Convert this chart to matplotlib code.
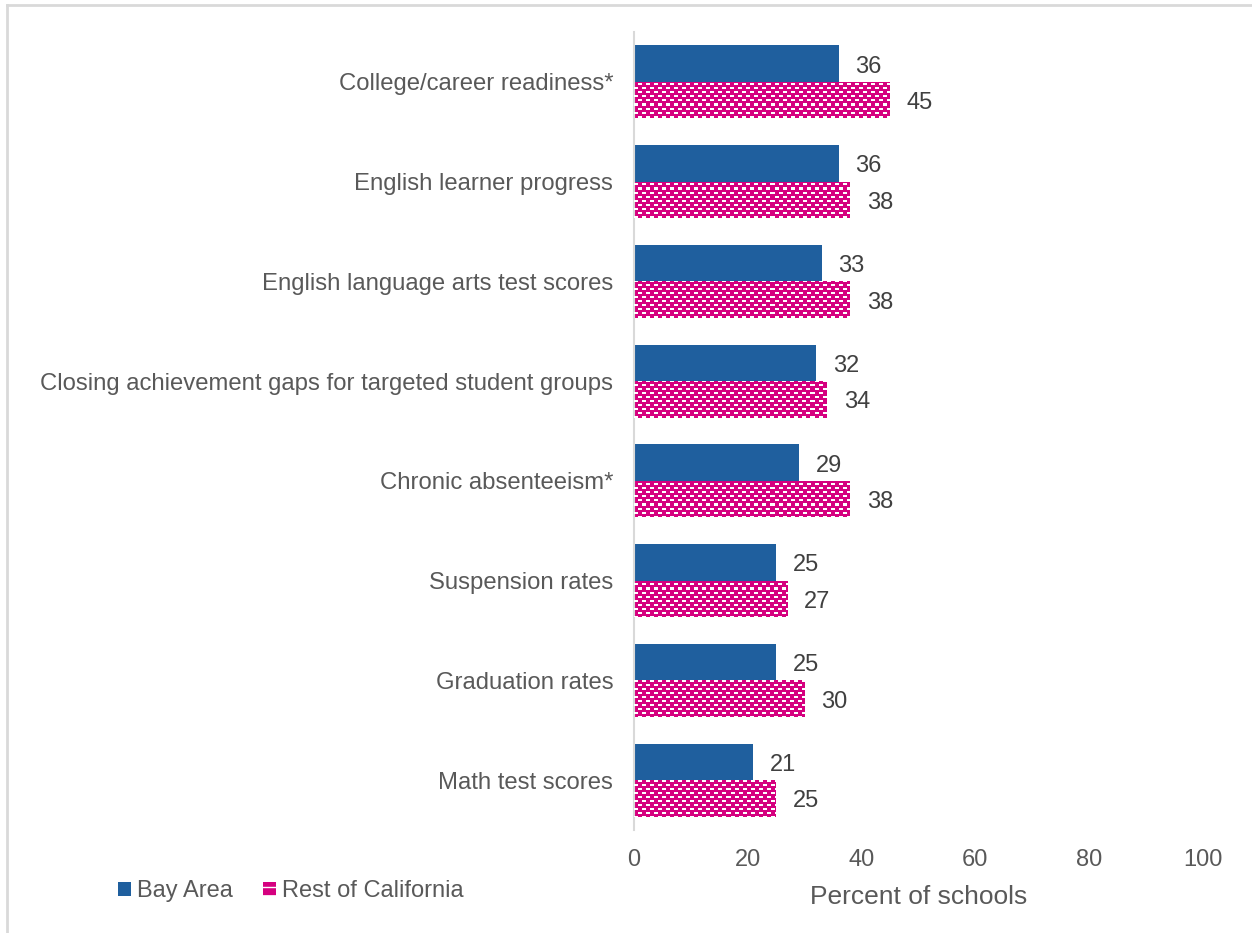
import numpy as np
import matplotlib
matplotlib.use("Agg")
import matplotlib.pyplot as plt
from matplotlib.patches import Patch
from matplotlib.lines import Line2D

plt.rcParams['font.family'] = ['Liberation Sans', 'DejaVu Sans']

categories = [
    "College/career readiness*",
    "English learner progress",
    "English language arts test scores",
    "Closing achievement gaps for targeted student groups",
    "Chronic absenteeism*",
    "Suspension rates",
    "Graduation rates",
    "Math test scores",
]
bay_area = [36, 36, 33, 32, 29, 25, 25, 21]
rest_of_ca = [45, 38, 38, 34, 38, 27, 30, 25]
x_ticks = [0, 20, 40, 60, 80, 100]

BLUE = '#1F5F9E'
PINK = '#D5007F'
GRAY_TEXT = '#595959'
TEXT = '#404040'

W, H, DPI = 1252, 933, 100
fig = plt.figure(figsize=(W / DPI, H / DPI), dpi=DPI)
ax_left, ax_right, ax_top, ax_bottom = 634, 1203, 32, 830
ax = fig.add_axes([ax_left / W, 1 - ax_bottom / H,
                   (ax_right - ax_left) / W, (ax_bottom - ax_top) / H])

n = len(categories)
y = np.arange(n)
bh = 0.365
ax.set_xlim(0, 100)
ax.set_ylim(n - 0.5, -0.5)

ax.barh(y - bh / 2, bay_area, height=bh, color=BLUE, zorder=2)
pink_bars = ax.barh(y + bh / 2, rest_of_ca, height=bh, color=PINK, zorder=2)

# brick-like dash pattern over the pink bars, one texel per screen pixel
pw, ph = ax_right - ax_left, ax_bottom - ax_top
pattern = np.zeros((ph, pw, 4))
rows = np.arange(ph)[:, None]
cols = np.arange(pw)[None, :]
row_in_tile = rows % 8
shift = np.where(row_in_tile >= 4, 4, 0)
mask = ((rows % 4) < 2) & (((cols + shift) % 8) < 4)
pattern[mask] = [1, 1, 1, 1]
for bar in pink_bars:
    im = ax.imshow(pattern, extent=(0, 100, n - 0.5, -0.5), aspect='auto',
                   interpolation='nearest', zorder=3, origin='upper')
    im.set_clip_path(bar)
ax.set_xlim(0, 100)
ax.set_ylim(n - 0.5, -0.5)

dy = 0.03
for i in range(n):
    ax.text(bay_area[i] + 2.9, y[i] - bh / 2 + dy, str(bay_area[i]), va='center',
            ha='left', fontsize=17, color=TEXT)
    ax.text(rest_of_ca[i] + 2.9, y[i] + bh / 2 + dy, str(rest_of_ca[i]), va='center',
            ha='left', fontsize=17, color=TEXT)

ax.set_yticks(y)
ax.set_yticklabels(categories, fontsize=17.2, color=GRAY_TEXT)
ax.set_xticks(x_ticks)
ax.set_xticklabels([str(t) for t in x_ticks], fontsize=17, color=GRAY_TEXT)
ax.tick_params(axis='y', length=0, pad=15)
ax.tick_params(axis='x', length=0, pad=14)
ax.set_xlabel("Percent of schools", fontsize=19, color=GRAY_TEXT, labelpad=10)

for s in ['top', 'right', 'bottom']:
    ax.spines[s].set_visible(False)
ax.spines['left'].set_color('#D9D9D9')
ax.spines['left'].set_linewidth(1.5)
ax.set_facecolor('none')

handles = [Patch(facecolor=BLUE, edgecolor=BLUE, linewidth=0),
           Patch(facecolor=PINK, edgecolor='white', hatch='--', linewidth=0)]
fig.legend(handles, ["Bay Area", "Rest of California"], loc='center left',
           bbox_to_anchor=(118 / W, 1 - 891 / H), ncol=2, frameon=False,
           fontsize=17, handlelength=0.55, handleheight=0.55,
           handletextpad=0.25, columnspacing=1.3, labelcolor=GRAY_TEXT,
           borderaxespad=0, borderpad=0)

# outer frame
fig.add_artist(Line2D([7 / W, 1], [1 - 5 / H, 1 - 5 / H], transform=fig.transFigure,
                      color='#D9D9D9', linewidth=2))
fig.add_artist(Line2D([7 / W, 7 / W], [0, 1 - 5 / H], transform=fig.transFigure,
                      color='#D9D9D9', linewidth=2))

fig.savefig("out.png", dpi=DPI)
